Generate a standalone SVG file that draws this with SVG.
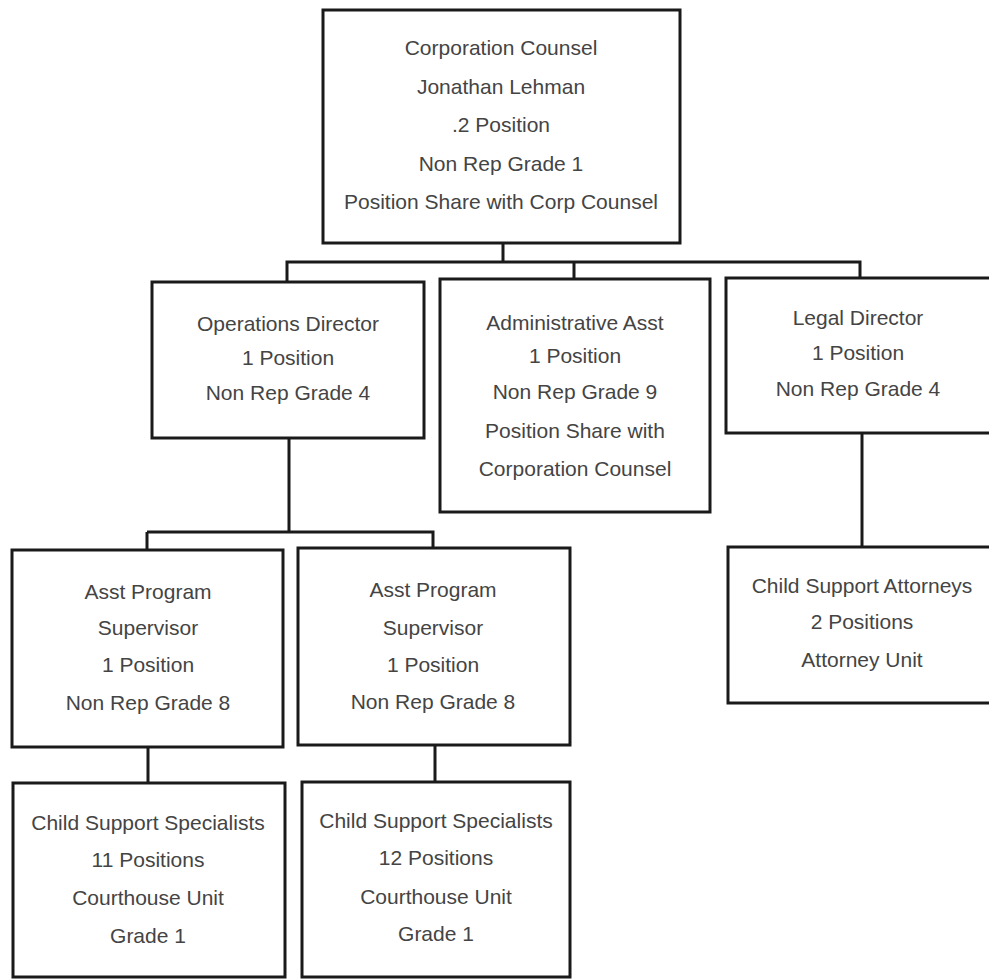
<svg xmlns="http://www.w3.org/2000/svg" width="989" height="980" viewBox="0 0 989 980">
<style>
.box{fill:#fff;stroke:#1a1a1a;stroke-width:3}
.ln{stroke:#1a1a1a;stroke-width:3;fill:none}
text{font-family:"Liberation Sans",Arial,sans-serif;font-size:21px;fill:#444;text-anchor:middle}
</style>
<rect width="989" height="980" fill="#fff"/>
<g id="connectors">
<path class="ln" d="M503 244V262M287 282V262H860V278M574 262V280"/>
<path class="ln" d="M289 438V532M147 532H433V548M147 532V550"/>
<path class="ln" d="M148 747V783M435 745V782"/>
<path class="ln" d="M862 433V547"/>
</g>
<g id="n-corp">
<rect class="box" x="323" y="10" width="357" height="233"/>
<text x="501" y="55">Corporation Counsel</text>
<text x="501" y="94">Jonathan Lehman</text>
<text x="501" y="132">.2 Position</text>
<text x="501" y="171">Non Rep Grade 1</text>
<text x="501" y="209">Position Share with Corp Counsel</text>
</g>
<g id="n-ops">
<rect class="box" x="152" y="282" width="272" height="156"/>
<text x="288" y="331">Operations Director</text>
<text x="288" y="365">1 Position</text>
<text x="288" y="400">Non Rep Grade 4</text>
</g>
<g id="n-admin">
<rect class="box" x="440" y="279" width="270" height="233"/>
<text x="575" y="330">Administrative Asst</text>
<text x="575" y="363">1 Position</text>
<text x="575" y="399">Non Rep Grade 9</text>
<text x="575" y="438">Position Share with</text>
<text x="575" y="476">Corporation Counsel</text>
</g>
<g id="n-legal">
<rect class="box" x="726" y="278" width="270" height="155"/>
<text x="858" y="325">Legal Director</text>
<text x="858" y="360">1 Position</text>
<text x="858" y="396">Non Rep Grade 4</text>
</g>
<g id="n-attorneys">
<rect class="box" x="728" y="547" width="270" height="156"/>
<text x="862" y="593">Child Support Attorneys</text>
<text x="862" y="629">2 Positions</text>
<text x="862" y="667">Attorney Unit</text>
</g>
<g id="n-asst1">
<rect class="box" x="12" y="550" width="271" height="197"/>
<text x="148" y="599">Asst Program</text>
<text x="148" y="635">Supervisor</text>
<text x="148" y="672">1 Position</text>
<text x="148" y="710">Non Rep Grade 8</text>
</g>
<g id="n-asst2">
<rect class="box" x="298" y="548" width="272" height="197"/>
<text x="433" y="597">Asst Program</text>
<text x="433" y="635">Supervisor</text>
<text x="433" y="672">1 Position</text>
<text x="433" y="709">Non Rep Grade 8</text>
</g>
<g id="n-css1">
<rect class="box" x="13" y="783" width="272" height="194"/>
<text x="148" y="830">Child Support Specialists</text>
<text x="148" y="867">11 Positions</text>
<text x="148" y="905">Courthouse Unit</text>
<text x="148" y="943">Grade 1</text>
</g>
<g id="n-css2">
<rect class="box" x="302" y="782" width="268" height="195"/>
<text x="436" y="828">Child Support Specialists</text>
<text x="436" y="865">12 Positions</text>
<text x="436" y="904">Courthouse Unit</text>
<text x="436" y="941">Grade 1</text>
</g>
</svg>
